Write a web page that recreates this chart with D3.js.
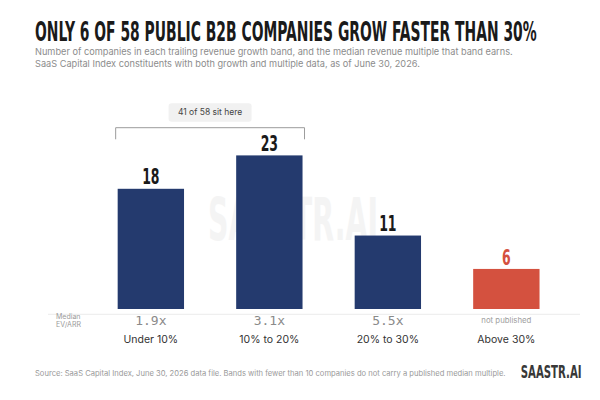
<!DOCTYPE html>
<html>
<head>
<meta charset="utf-8">
<script src="https://cdn.jsdelivr.net/npm/d3@7"></script>
<style>
  body { margin: 0; background: #fff; }
  svg { display: block; }
</style>
</head>
<body>
<svg id="chart"></svg>
<script>
// chart values
const bands = ["Under 10%", "10% to 20%", "20% to 30%", "Above 30%"];
const companyCounts = [18, 23, 11, 6];
const medianMultiples = ["1.9x", "3.1x", "5.5x", "not published"];
const highlightBand = "Above 30%";
const bracketBands = ["Under 10%", "10% to 20%"];
const bracketLabel = "41 of 58 sit here";

const titleText = "ONLY 6 OF 58 PUBLIC B2B COMPANIES GROW FASTER THAN 30%";
const subtitleLines = [
  "Number of companies in each trailing revenue growth band, and the median revenue multiple that band earns.",
  "SaaS Capital Index constituents with both growth and multiple data, as of June 30, 2026."
];
const sourceText = "Source: SaaS Capital Index, June 30, 2026 data file. Bands with fewer than 10 companies do not carry a published median multiple.";
const brandText = "SAASTR.AI";

const W = 600, H = 400;
const navy = "#243a6e", red = "#d4513f";
const condensed = "'DejaVu Sans Condensed', 'Liberation Sans Narrow', sans-serif";
const sans = "Inter, 'Open Sans', sans-serif";

const svg = d3.select("#chart").attr("width", W).attr("height", H);

// squeeze a condensed text horizontally so it spans the given width
function squeeze(sel, x, y, width, anchor) {
  sel.attr("x", 0).attr("y", 0).attr("text-anchor", anchor || "start");
  sel.each(function() {
    const natural = this.getComputedTextLength();
    const s = width / natural;
    d3.select(this).attr("transform", `translate(${x},${y}) scale(${s},1)`);
  });
}

// header
const title = svg.append("text")
    .attr("font-family", condensed)
    .attr("font-weight", "bold")
    .attr("font-size", 26)
    .attr("fill", "#1a1a1a")
    .text(titleText);
squeeze(title, 35, 40.7, 502);

svg.selectAll(".subtitle")
    .data(subtitleLines)
  .join("text")
    .attr("class", "subtitle")
    .attr("x", 35)
    .attr("y", (d, i) => 55.3 + i * 11.6)
    .attr("font-family", sans)
    .attr("font-size", 9.2)
    .attr("fill", "#8c8c8c")
    .text(d => d);

// watermark
const mark = svg.append("text")
    .attr("font-family", condensed)
    .attr("font-weight", "bold")
    .attr("font-size", 58)
    .attr("fill", "#f4f4f4")
    .text(brandText);
squeeze(mark, 208, 240, 170);

// scales
const xScale = d3.scaleBand()
    .domain(bands)
    .range([91.6, 565.6])
    .paddingInner(0.44)
    .paddingOuter(0.22);

const yScale = d3.scaleLinear()
    .domain([0, d3.max(companyCounts)])
    .range([309, 155.4]);

const data = bands.map((b, i) => ({ band: b, count: companyCounts[i], multiple: medianMultiples[i] }));
const colorOf = d => d.band === highlightBand ? red : navy;
const mid = d => xScale(d.band) + xScale.bandwidth() / 2;

// baseline rule
svg.append("line")
    .attr("x1", 48).attr("x2", 580)
    .attr("y1", 314.3).attr("y2", 314.3)
    .attr("stroke", "#ececec")
    .attr("stroke-width", 1);

// bars
svg.selectAll(".bar")
    .data(data)
  .join("rect")
    .attr("class", "bar")
    .attr("x", d => xScale(d.band))
    .attr("y", d => yScale(d.count))
    .attr("width", xScale.bandwidth())
    .attr("height", d => yScale(0) - yScale(d.count))
    .attr("fill", colorOf);

// value labels, narrowed to look like the condensed display face
svg.selectAll(".value")
    .data(data)
  .join("text")
    .attr("class", "value")
    .attr("text-anchor", "middle")
    .attr("font-family", condensed)
    .attr("font-weight", "bold")
    .attr("font-size", 21)
    .attr("fill", d => d.band === highlightBand ? red : "#1a1a1a")
    .attr("transform", d => `translate(${mid(d)},${yScale(d.count) - 4.4}) scale(0.66,1)`)
    .text(d => d.count);

// median multiple row
svg.selectAll(".rowlabel")
    .data(["Median", "EV/ARR"])
  .join("text")
    .attr("class", "rowlabel")
    .attr("x", 56)
    .attr("y", (d, i) => 318.8 + i * 8.6)
    .attr("font-family", sans)
    .attr("font-size", 7)
    .attr("fill", "#9a9a9a")
    .text(d => d);

svg.selectAll(".multiple")
    .data(data)
  .join("text")
    .attr("class", "multiple")
    .attr("x", mid)
    .attr("y", d => d.multiple === "not published" ? 322.5 : 325.2)
    .attr("text-anchor", "middle")
    .attr("font-family", d => d.multiple === "not published" ? sans : "'DejaVu Sans Mono', 'Liberation Mono', monospace")
    .attr("font-size", d => d.multiple === "not published" ? 7.8 : 13)
    .attr("fill", d => d.multiple === "not published" ? "#a0a0a0" : "#8a8a8a")
    .text(d => d.multiple);

// category axis labels
svg.selectAll(".cat")
    .data(data)
  .join("text")
    .attr("class", "cat")
    .attr("x", mid)
    .attr("y", 343.3)
    .attr("text-anchor", "middle")
    .attr("font-family", sans)
    .attr("font-size", 10.5)
    .attr("fill", "#333")
    .text(d => d.band);

// bracket over the first two bands
const bx0 = xScale(bracketBands[0]) - 2;
const bx1 = xScale(bracketBands[1]) + xScale.bandwidth() + 2;
svg.append("path")
    .attr("d", `M${bx0},139.3 V127.7 H${bx1} V139.3`)
    .attr("fill", "none")
    .attr("stroke", "#9c9c9c")
    .attr("stroke-width", 1);

const bMid = (bx0 + bx1) / 2;
svg.append("rect")
    .attr("x", bMid - 41.5).attr("y", 103.3)
    .attr("width", 83).attr("height", 18.4)
    .attr("rx", 3)
    .attr("fill", "#f1f1f1");
svg.append("text")
    .attr("x", bMid).attr("y", 115.3)
    .attr("text-anchor", "middle")
    .attr("font-family", sans)
    .attr("font-size", 8.5)
    .attr("fill", "#444")
    .text(bracketLabel);

// footer
svg.append("text")
    .attr("x", 35).attr("y", 375.5)
    .attr("font-family", sans)
    .attr("font-size", 7.6)
    .attr("fill", "#9a9a9a")
    .text(sourceText);

const brand = svg.append("text")
    .attr("font-family", condensed)
    .attr("font-weight", "bold")
    .attr("font-size", 18)
    .attr("fill", "#383838")
    .text(brandText);
squeeze(brand, 520.7, 378.3, 61);
</script>
</body>
</html>
